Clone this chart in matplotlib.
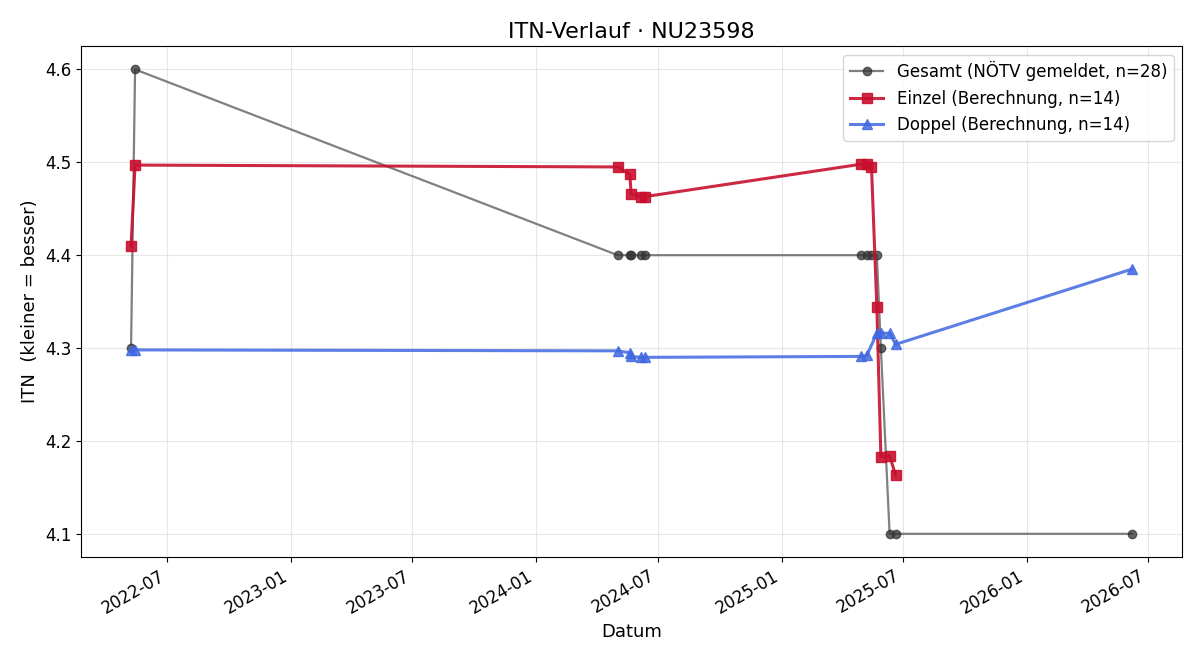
import matplotlib
matplotlib.use("Agg")
import matplotlib.pyplot as plt
import matplotlib.dates as mdates
import pandas as pd

# Gesamt (NÖTV gemeldet)
ges_dates = ["2022-05-08", "2022-05-14", "2024-05-02", "2024-05-20", "2024-05-22",
             "2024-06-05", "2024-06-11", "2025-04-30", "2025-05-08", "2025-05-15",
             "2025-05-23", "2025-05-29", "2025-06-11", "2025-06-20", "2026-06-07"]
ges_itn = [4.3, 4.6, 4.4, 4.4, 4.4, 4.4, 4.4, 4.4, 4.4, 4.4, 4.4, 4.3, 4.1, 4.1, 4.1]

# Einzel (Berechnung)
ein_dates = ["2022-05-08", "2022-05-14", "2024-05-02", "2024-05-20", "2024-05-22",
             "2024-06-05", "2024-06-11", "2025-04-30", "2025-05-08", "2025-05-15",
             "2025-05-23", "2025-05-29", "2025-06-11", "2025-06-20"]
ein_itn = [4.41, 4.497, 4.495, 4.487, 4.466, 4.463, 4.463, 4.498, 4.498, 4.495,
           4.344, 4.183, 4.184, 4.163]

# Doppel (Berechnung)
dop_dates = ["2022-05-08", "2022-05-14", "2024-05-02", "2024-05-20", "2024-05-22",
             "2024-06-05", "2024-06-11", "2025-04-30", "2025-05-08", "2025-05-23",
             "2025-05-29", "2025-06-11", "2025-06-20", "2026-06-07"]
dop_itn = [4.298, 4.298, 4.297, 4.295, 4.291, 4.29, 4.29, 4.291, 4.292, 4.316,
           4.316, 4.316, 4.304, 4.385]

fig, ax = plt.subplots(figsize=(12, 6.6), dpi=100)

ax.plot(pd.to_datetime(ges_dates), ges_itn, "-o", color="#555555", alpha=0.75,
        lw=1.6, ms=6, mfc="#333333", mec="#333333",
        label="Gesamt (NÖTV gemeldet, n=28)")
ax.plot(pd.to_datetime(ein_dates), ein_itn, "-s", color="#c8102e", alpha=0.9,
        lw=2.2, ms=7, label="Einzel (Berechnung, n=14)")
ax.plot(pd.to_datetime(dop_dates), dop_itn, "-^", color="#4169e1", alpha=0.85,
        lw=2.2, ms=7, label="Doppel (Berechnung, n=14)")

ax.set_title("ITN-Verlauf · NU23598", fontsize=16)
ax.set_xlabel("Datum", fontsize=13)
ax.set_ylabel("ITN  (kleiner = besser)", fontsize=13)
ax.grid(True, alpha=0.3)
ax.xaxis.set_major_locator(mdates.MonthLocator(bymonth=[1, 7]))
ax.xaxis.set_major_formatter(mdates.DateFormatter("%Y-%m"))
ax.tick_params(labelsize=12)
ax.legend(loc="upper right", fontsize=12)
fig.autofmt_xdate()
fig.subplots_adjust(left=0.0675, right=0.985, top=0.930, bottom=0.156)
fig.savefig("out.png")
